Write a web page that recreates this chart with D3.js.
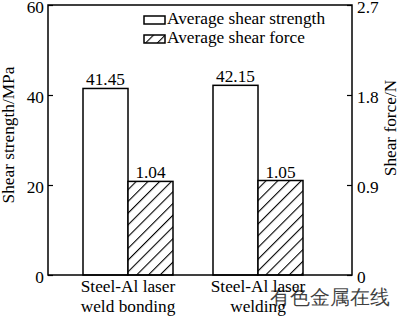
<!DOCTYPE html>
<html>
<head>
<meta charset="utf-8">
<script src="https://cdn.jsdelivr.net/npm/d3@7"></script>
<style>
  html, body { margin: 0; padding: 0; background: #fff; }
  svg { display: block; }
  text { font-family: "Liberation Serif", "Times New Roman", serif; fill: #000; }
</style>
</head>
<body>
<svg id="chart" width="400" height="316"></svg>
<script>
// ---- data ----
const categories = ["Steel-Al laser weld bonding", "Steel-Al laser welding"];
const categoryLines = [["Steel-Al laser", "weld bonding"], ["Steel-Al laser", "welding"]];
const seriesNames = ["Average shear strength", "Average shear force"];
const shearStrength = [41.45, 42.15];   // MPa
const shearForce = [1.04, 1.05];        // N
const leftTicks = [0, 20, 40, 60];
const rightTicks = [0, 0.9, 1.8, 2.7];
const watermark = "有色金属在线";

// ---- layout ----
const svg = d3.select("#chart");
const L = 48, R = 352, T = 5, B = 275;
const FS = 17.3;

const x = d3.scaleBand().domain(categories).range([63, 323]).paddingInner(0).paddingOuter(0);
const sub = d3.scaleBand().domain(seriesNames).range([x.bandwidth() / 2 - 45, x.bandwidth() / 2 + 45]);
const yL = d3.scaleLinear().domain([0, 60]).range([B, T]);
const yR = d3.scaleLinear().domain([0, 2.7]).range([B, T]);
// In the original figure the force bars are drawn against a 0-3 range
// (their tops sit slightly below what the right axis labels suggest).
const yForceBar = d3.scaleLinear().domain([0, 3]).range([B, T]);

// hatch pattern
const defs = svg.append("defs");
const pat = defs.append("pattern")
  .attr("id", "hatch").attr("patternUnits", "userSpaceOnUse")
  .attr("width", 8.3).attr("height", 8.3)
  .attr("patternTransform", "rotate(45)");
pat.append("rect").attr("width", 8.3).attr("height", 8.3).attr("fill", "#fff");
pat.append("line").attr("x1", 0).attr("y1", 0).attr("x2", 0).attr("y2", 8.3)
  .attr("stroke", "#000").attr("stroke-width", 2.2);

// bars
const g = svg.append("g");
categories.forEach((c, i) => {
  const x0 = x(c);
  // strength bar
  const sx = x0 + sub(seriesNames[0]);
  g.append("rect")
    .attr("x", sx).attr("y", yL(shearStrength[i]))
    .attr("width", sub.bandwidth()).attr("height", B - yL(shearStrength[i]))
    .attr("fill", "#fff").attr("stroke", "#000").attr("stroke-width", 1.5);
  g.append("text")
    .attr("x", sx + sub.bandwidth() / 2).attr("y", yL(shearStrength[i]) - 3)
    .attr("text-anchor", "middle").attr("font-size", FS)
    .text(shearStrength[i].toFixed(2));
  // force bar
  const fx = x0 + sub(seriesNames[1]);
  g.append("rect")
    .attr("x", fx).attr("y", yForceBar(shearForce[i]))
    .attr("width", sub.bandwidth()).attr("height", B - yForceBar(shearForce[i]))
    .attr("fill", "url(#hatch)").attr("stroke", "#000").attr("stroke-width", 1.5);
  g.append("text")
    .attr("x", fx + sub.bandwidth() / 2).attr("y", yForceBar(shearForce[i]) - 3)
    .attr("text-anchor", "middle").attr("font-size", FS)
    .text(shearForce[i].toFixed(2));
  // category labels
  categoryLines[i].forEach((ln, j) => {
    svg.append("text")
      .attr("x", x0 + x.bandwidth() / 2).attr("y", 292 + j * 19.5)
      .attr("text-anchor", "middle").attr("font-size", FS)
      .text(ln);
  });
});

// frame
svg.append("rect").attr("x", L).attr("y", T).attr("width", R - L).attr("height", B - T)
  .attr("fill", "none").attr("stroke", "#000").attr("stroke-width", 1.5);

// axes
const axL = svg.append("g").attr("transform", `translate(${L},0)`)
  .call(d3.axisLeft(yL).tickValues(leftTicks).tickSizeInner(-5).tickSizeOuter(0).tickPadding(4).tickFormat(d3.format("d")));
const axR = svg.append("g").attr("transform", `translate(${R},0)`)
  .call(d3.axisRight(yR).tickValues(rightTicks).tickSizeInner(-5).tickSizeOuter(0).tickPadding(5)
    .tickFormat(d => d === 0 ? "0" : d3.format(".1f")(d)));
[axL, axR].forEach(a => {
  a.select(".domain").remove();
  a.selectAll("line").attr("stroke", "#000").attr("stroke-width", 1.2);
  a.selectAll("text").attr("font-size", FS).attr("font-family", "Liberation Serif")
    .attr("fill", "#000").attr("dy", "0.42em");
});

// axis titles
svg.append("text").attr("transform", `translate(14,${(T + B) / 2 - 5}) rotate(-90)`)
  .attr("text-anchor", "middle").attr("font-size", FS).text("Shear strength/MPa");
svg.append("text").attr("transform", `translate(396,${(T + B) / 2 - 12}) rotate(-90)`)
  .attr("text-anchor", "middle").attr("font-size", FS).text("Shear force/N");

// legend
const lg = svg.append("g");
seriesNames.forEach((s, i) => {
  const yy = 16 + i * 19;
  lg.append("rect").attr("x", 144).attr("y", yy).attr("width", 21).attr("height", 8)
    .attr("fill", i === 0 ? "#fff" : "url(#hatch)").attr("stroke", "#000").attr("stroke-width", 1.5);
  lg.append("text").attr("x", 167).attr("y", yy + 8).attr("font-size", FS).text(s);
});

// watermark
svg.append("text").attr("x", 270).attr("y", 304)
  .attr("font-family", "Noto Sans CJK SC").attr("font-size", 20)
  .attr("fill", "#e58080").attr("fill-opacity", 0.75)
  .text(watermark);
</script>
</body>
</html>
